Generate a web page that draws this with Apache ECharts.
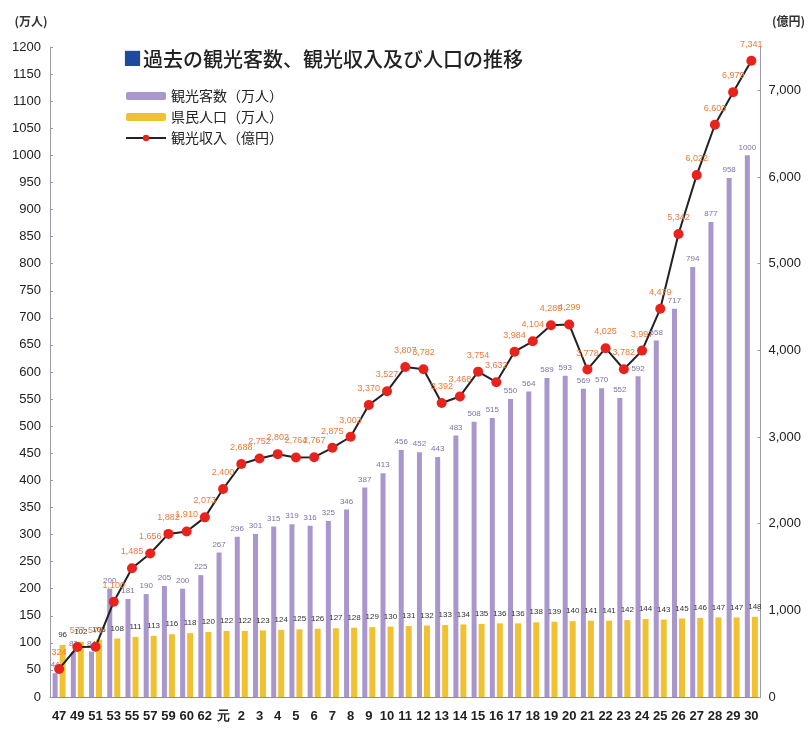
<!DOCTYPE html>
<html>
<head>
<meta charset="utf-8">
<script src="https://cdn.jsdelivr.net/npm/echarts@6/dist/echarts.min.js"></script>
<style>
html, body { margin: 0; padding: 0; background: #fff; }
#chart { width: 808px; height: 733px; }
</style>
</head>
<body>
<div id="chart"></div>
<script>
// years: Showa 47..62, Heisei 元..30
var years = ['47', '49', '51', '53', '55', '57', '59', '60', '62', '元',
    '2', '3', '4', '5', '6', '7', '8', '9', '10', '11', '12', '13', '14', '15',
    '16', '17', '18', '19', '20', '21', '22', '23', '24', '25', '26', '27', '28', '29', '30'];
// 観光客数 (万人)
var visitors = [44, 83, 84, 200, 181, 190, 205, 200, 225, 267,
    296, 301, 315, 319, 316, 325, 346, 387, 413, 456, 452, 443, 483, 508,
    515, 550, 564, 589, 593, 569, 570, 552, 592, 658, 717, 794, 877, 958, 1000];
// 県民人口 (万人)
var population = [96, 102, 106, 108, 111, 113, 116, 118, 120, 122,
    122, 123, 124, 125, 126, 127, 128, 129, 130, 131, 132, 133, 134, 135,
    136, 136, 138, 139, 140, 141, 141, 142, 144, 143, 145, 146, 147, 147, 148];
// 観光収入 (億円)
var revenue = [324, 577, 579, 1100, 1485, 1656, 1882, 1910, 2073, 2400,
    2688, 2752, 2802, 2764, 2767, 2875, 3003, 3370, 3527, 3807, 3782, 3392, 3468, 3754,
    3632, 3984, 4104, 4289, 4299, 3778, 4025, 3782, 3997, 4479, 5342, 6022, 6603, 6979, 7341];

var chart = echarts.init(document.getElementById('chart'));
var numFont = '"Liberation Sans", Arial, sans-serif';
var jpFont = '"Noto Sans CJK JP", sans-serif';

function comma(v) {
    return String(v).replace(/\B(?=(\d{3})+(?!\d))/g, ',');
}

var option = {
    backgroundColor: '#fff',
    animation: false,
    title: {
        left: 118,
        top: 44,
        text: '{sq|■}{t|過去の観光客数、観光収入及び人口の推移}',
        textStyle: {
            rich: {
                sq: {color: '#1d4a9c', fontSize: 19, fontFamily: jpFont},
                t: {color: '#222', fontSize: 20, fontWeight: 500, fontFamily: jpFont, padding: [0, 0, 0, 1]}
            }
        }
    },
    legend: {
        orient: 'vertical',
        left: 120,
        top: 84,
        itemWidth: 40,
        itemHeight: 8,
        itemGap: 7,
        textStyle: {fontSize: 14, color: '#222', fontFamily: jpFont},
        data: ['観光客数（万人）', '県民人口（万人）', '観光収入（億円）']
    },
    grid: {left: 50, right: 46, top: 47, bottom: 36},
    xAxis: {
        type: 'category',
        data: years,
        axisLine: {lineStyle: {color: '#8a8aa0'}},
        axisTick: {show: false},
        axisLabel: {
            interval: 0,
            margin: 13,
            fontSize: 13,
            fontWeight: 'bold',
            color: '#222',
            fontFamily: numFont
        }
    },
    yAxis: [{
        type: 'value',
        min: 0,
        max: 1200,
        interval: 50,
        name: '(万人)',
        nameLocation: 'end',
        nameGap: 20,
        nameTextStyle: {fontSize: 12, fontWeight: 'bold', color: '#333', fontFamily: jpFont, padding: [0, 38, 0, 0]},
        splitLine: {show: false},
        axisLine: {show: true, lineStyle: {color: '#9a9aa8'}},
        axisTick: {show: true, inside: true, length: 3, lineStyle: {color: '#9a9aa8'}},
        axisLabel: {
            fontSize: 13,
            color: '#222',
            margin: 9,
            fontFamily: numFont,
            formatter: function (v) { return String(v); }
        }
    }, {
        type: 'value',
        min: 0,
        max: 7500,
        interval: 1000,
        name: '(億円)',
        nameLocation: 'end',
        nameGap: 20,
        nameTextStyle: {fontSize: 12, fontWeight: 'bold', color: '#333', fontFamily: jpFont, padding: [0, 0, 0, 56]},
        splitLine: {show: false},
        axisLine: {show: true, lineStyle: {color: '#9a9aa8'}},
        axisTick: {show: true, inside: true, length: 3, lineStyle: {color: '#9a9aa8'}},
        axisLabel: {
            fontSize: 13,
            color: '#222',
            margin: 8,
            fontFamily: numFont,
            showMaxLabel: false,
            formatter: function (v) { return v > 7000 ? '' : comma(v); }
        }
    }],
    series: [{
        name: '観光客数（万人）',
        type: 'bar',
        data: visitors,
        barWidth: 5,
        barGap: '40%',
        itemStyle: {color: '#a896cc'},
        label: {
            show: true,
            position: 'top',
            distance: 4,
            fontSize: 8,
            color: '#8070a8',
            fontFamily: numFont
        }
    }, {
        name: '県民人口（万人）',
        type: 'bar',
        data: population,
        barWidth: 6,
        itemStyle: {color: '#f0c232'},
        label: {
            show: true,
            position: 'top',
            distance: 6,
            fontSize: 8,
            color: '#333',
            fontFamily: numFont
        }
    }, {
        name: '観光収入（億円）',
        type: 'line',
        yAxisIndex: 1,
        data: revenue,
        symbol: 'circle',
        symbolSize: 10,
        lineStyle: {color: '#222', width: 2},
        itemStyle: {color: '#e8231e'},
        label: {
            show: true,
            position: 'top',
            distance: 7,
            fontSize: 9,
            color: '#f07a3c',
            fontFamily: numFont,
            formatter: function (p) { return comma(p.value); }
        },
        z: 5
    }]
};
chart.setOption(option);
</script>
</body>
</html>
